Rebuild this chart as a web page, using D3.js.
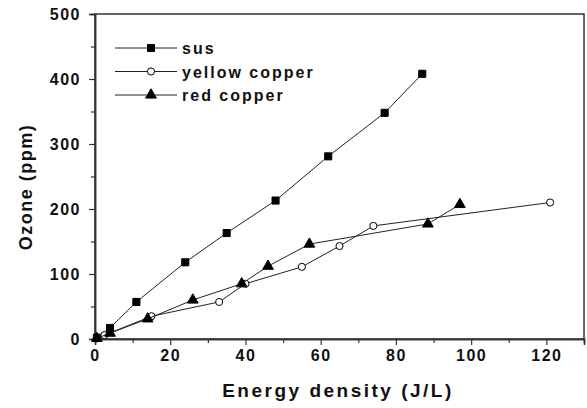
<!DOCTYPE html>
<html>
<head>
<meta charset="utf-8">
<script src="https://cdn.jsdelivr.net/npm/d3@7"></script>
<style>
body { margin: 0; background: #fff; }
text { font-family: Arial, "Liberation Sans", sans-serif; font-weight: bold; }
</style>
</head>
<body>
<div id="chart"></div>
<script>
// donnees
var susX = [0.5, 4, 11, 24, 35, 48, 62, 77, 87];
var susY = [2, 17, 57, 118, 163, 213, 281, 348, 408];
var yellowX = [0.5, 2.5, 15, 33, 40, 55, 65, 74, 121];
var yellowY = [1, 6, 35, 57, 85, 111, 143, 174, 210];
var redX = [0.5, 4, 14, 26, 39, 46, 57, 88.5, 97];
var redY = [1, 9, 31, 60, 85, 112, 146, 177, 207];
var seriesNames = ["sus", "yellow copper", "red copper"];
var xTicks = [0, 20, 40, 60, 80, 100, 120];
var yTicks = [0, 100, 200, 300, 400, 500];

var W = 587, H = 408;
var plot = {left: 95, top: 14, right: 584, bottom: 339};

var svg = d3.select("#chart").append("svg")
  .attr("width", W).attr("height", H);

var x = d3.scaleLinear().domain([0, 130]).range([plot.left, plot.right]);
var y = d3.scaleLinear().domain([0, 500]).range([plot.bottom, plot.top]);

// cadre
svg.append("rect")
  .attr("x", plot.left).attr("y", plot.top)
  .attr("width", plot.right - plot.left).attr("height", plot.bottom - plot.top)
  .attr("fill", "none").attr("stroke", "#333").attr("stroke-width", 1.5);

// axes avec graduations secondaires
var xMinor = d3.range(10, 131, 20);
var yMinor = d3.range(50, 500, 100);

var gx = svg.append("g").attr("transform", "translate(0," + plot.bottom + ")");
gx.call(d3.axisBottom(x).tickValues(xTicks).tickSize(6).tickPadding(5));
gx.append("g").call(d3.axisBottom(x).tickValues(xMinor).tickSize(4).tickFormat(""));

var gy = svg.append("g").attr("transform", "translate(" + plot.left + ",0)");
gy.call(d3.axisLeft(y).tickValues(yTicks).tickSize(6).tickPadding(8));
gy.append("g").call(d3.axisLeft(y).tickValues(yMinor).tickSize(4).tickFormat(""));

svg.selectAll(".domain").attr("stroke", "#333").attr("stroke-width", 1.5);
svg.selectAll(".tick line").attr("stroke", "#333").attr("stroke-width", 1.2);
svg.selectAll(".tick text").attr("font-size", 16).attr("font-weight", "bold")
  .attr("font-family", "Arial, 'Liberation Sans', sans-serif").attr("fill", "#111")
  .style("letter-spacing", "1.5px");

// titres
svg.append("text")
  .attr("x", 338).attr("y", 397)
  .attr("text-anchor", "middle").attr("font-size", 19).attr("fill", "#111")
  .style("letter-spacing", "2.5px")
  .text("Energy density (J/L)");

svg.append("text")
  .attr("transform", "translate(32,187) rotate(-90)")
  .attr("text-anchor", "middle").attr("font-size", 18).attr("fill", "#111")
  .style("letter-spacing", "1.5px")
  .text("Ozone (ppm)");

// series
var series = [
  {name: seriesNames[0], xs: susX, ys: susY, sym: d3.symbolSquare, size: 50, fill: "#000"},
  {name: seriesNames[1], xs: yellowX, ys: yellowY, sym: d3.symbolCircle, size: 40, fill: "#fff"},
  {name: seriesNames[2], xs: redX, ys: redY, sym: d3.symbolTriangle, size: 50, fill: "#000"}
];

var line = d3.line()
  .x(function(d){return x(d[0]);})
  .y(function(d){return y(d[1]);});

series.forEach(function(s)
{
  var pts = s.xs.map(function(v, i){return [v, s.ys[i]];});

  svg.append("path")
    .datum(pts)
    .attr("d", line)
    .attr("fill", "none")
    .attr("stroke", "#222")
    .attr("stroke-width", 1);

  svg.selectAll(null)
    .data(pts)
    .enter()
      .append("path")
      .attr("transform", function(d){return "translate(" + x(d[0]) + "," + y(d[1]) + ")";})
      .attr("d", d3.symbol().type(s.sym).size(s.size))
      .attr("fill", s.fill)
      .attr("stroke", "#000")
      .attr("stroke-width", 1);
});

// legende
var legend = svg.append("g");
series.forEach(function(s, i)
{
  var ly = 48 + i * 23.5;
  legend.append("line")
    .attr("x1", 115).attr("x2", 177).attr("y1", ly).attr("y2", ly)
    .attr("stroke", "#222").attr("stroke-width", 1);
  legend.append("path")
    .attr("transform", "translate(151," + ly + ")")
    .attr("d", d3.symbol().type(s.sym).size(s.size))
    .attr("fill", s.fill).attr("stroke", "#000").attr("stroke-width", 1);
  legend.append("text")
    .attr("x", 182).attr("y", ly + 6)
    .attr("font-size", 16).attr("fill", "#111")
    .style("letter-spacing", "2px")
    .text(s.name);
});
</script>
</body>
</html>
